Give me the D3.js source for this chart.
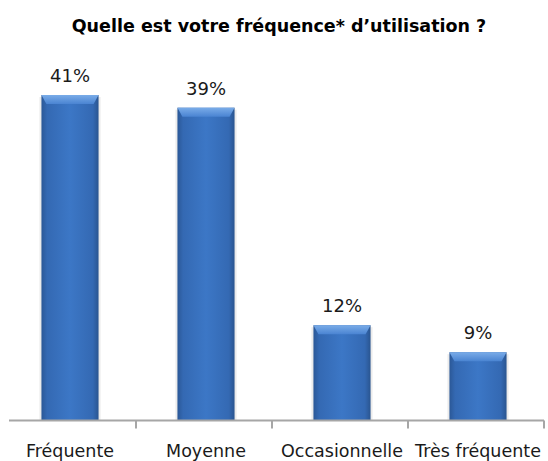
<!DOCTYPE html>
<html>
<head>
<meta charset="utf-8">
<script src="https://cdn.jsdelivr.net/npm/d3@7"></script>
<style>
  body { margin: 0; background: #fff; }
  text { font-family: "DejaVu Sans", Verdana, sans-serif; fill: #1a1a1a; }
</style>
</head>
<body>
<div id="chart"></div>
<script>
const categories = ["Fréquente", "Moyenne", "Occasionnelle", "Très fréquente"]
const values = [41, 39.4, 12, 8.6]
const title = "Quelle est votre fréquence* d’utilisation ?"

const width = 548, height = 461
const margin = { top: 0, right: 4, bottom: 40, left: 0 }
const axisY = height - margin.bottom - 0.5

const svg = d3.select("#chart")
  .append("svg")
  .attr("width", width)
  .attr("height", height)

const x = d3.scaleBand()
  .domain(categories)
  .range([margin.left, width - margin.right])
  .padding(0)

const y = d3.scaleLinear()
  .domain([0, 41])
  .range([axisY, 95])

const barW = x.bandwidth() * 0.42
const barX = d => x(d.cat) + (x.bandwidth() - barW) / 2 + 2

const data = categories.map((c, i) => ({ cat: c, value: values[i] }))

// gradients
const defs = svg.append("defs")
const bodyGrad = defs.append("linearGradient").attr("id", "body")
bodyGrad.append("stop").attr("offset", "0%").attr("stop-color", "#2b5897")
bodyGrad.append("stop").attr("offset", "10%").attr("stop-color", "#3469b3")
bodyGrad.append("stop").attr("offset", "50%").attr("stop-color", "#3c77c6")
bodyGrad.append("stop").attr("offset", "90%").attr("stop-color", "#3469b3")
bodyGrad.append("stop").attr("offset", "100%").attr("stop-color", "#2a5590")
const topGrad = defs.append("linearGradient").attr("id", "topgrad")
  .attr("x1", 0).attr("x2", 0).attr("y1", 0).attr("y2", 1)
topGrad.append("stop").attr("offset", "0%").attr("stop-color", "#7aace8")
topGrad.append("stop").attr("offset", "100%").attr("stop-color", "#4a84d2")

svg.append("text")
  .attr("x", 279)
  .attr("y", 32)
  .attr("text-anchor", "middle")
  .style("font-size", "17.5px")
  .style("font-weight", "bold")
  .style("fill", "#000")
  .text(title)

const bars = svg.append("g").selectAll("g")
  .data(data)
  .join("g")

// soft shadow
bars.append("rect")
  .attr("x", d => barX(d) - 2)
  .attr("y", d => y(d.value) + 2)
  .attr("width", barW + 4)
  .attr("height", d => axisY - y(d.value) - 2)
  .attr("fill", "#ebebeb")

bars.append("rect")
  .attr("x", d => barX(d))
  .attr("y", d => y(d.value))
  .attr("width", barW)
  .attr("height", d => axisY - y(d.value))
  .attr("fill", "url(#body)")

// top bevel
bars.append("path")
  .attr("fill", "url(#topgrad)")
  .attr("d", d => {
    const x0 = barX(d), x1 = x0 + barW, t = y(d.value)
    return `M${x0},${t}L${x1},${t}L${x1 - 5},${t + 9}L${x0 + 5},${t + 9}Z`
  })

bars.append("text")
  .attr("x", d => barX(d) + barW / 2)
  .attr("y", d => y(d.value) - 13)
  .attr("text-anchor", "middle")
  .style("font-size", "18px")
  .text(d => Math.round(d.value) + "%")

// x axis
const axis = svg.append("g").attr("class", "axis x-axis")
axis.append("line")
  .attr("x1", 9).attr("x2", width - margin.right)
  .attr("y1", axisY).attr("y2", axisY)
  .attr("stroke", "#a6a6a6").attr("stroke-width", 2)

axis.selectAll(".tick")
  .data(categories.slice(1).concat(["end"]))
  .join("line")
  .attr("x1", d => d === "end" ? width - margin.right : x(d))
  .attr("x2", d => d === "end" ? width - margin.right : x(d))
  .attr("y1", axisY).attr("y2", axisY + 8)
  .attr("stroke", "#a6a6a6").attr("stroke-width", 2)

axis.selectAll(".lbl")
  .data(categories)
  .join("text")
  .attr("x", d => x(d) + x.bandwidth() / 2 + 2)
  .attr("y", axisY + 36)
  .attr("text-anchor", "middle")
  .style("font-size", "17.5px")
  .text(d => d)
</script>
</body>
</html>
